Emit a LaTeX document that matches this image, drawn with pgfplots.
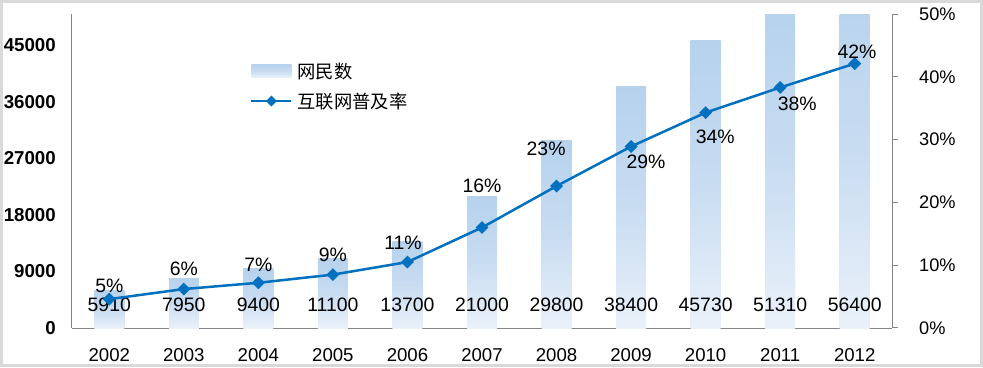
\documentclass[border=0pt]{standalone}
\usepackage{pgfplots}
\pgfplotsset{compat=1.18}
\usepackage{fontspec}
\setmainfont{Liberation Sans}
\newfontfamily\cjk{Noto Sans CJK SC}
\definecolor{barTop}{RGB}{182,210,237}
\definecolor{barMid}{RGB}{200,220,241}
\definecolor{barBot}{RGB}{234,241,250}
\definecolor{lineBlue}{RGB}{0,112,192}
\definecolor{axGray}{RGB}{134,134,134}
\definecolor{frameGray}{RGB}{217,217,217}
\pgfdeclareverticalshading{barshade}{100bp}{color(0bp)=(barBot); color(25bp)=(barBot); color(50bp)=(barMid); color(75bp)=(barTop); color(100bp)=(barTop)}
\newcommand{\lblfont}{\fontsize{19.4}{21}\selectfont}
\pgfplotsset{/pgf/number format/assume math mode=true,
  barsty/.style={ybar, bar width=30pt, bar shift=0pt, draw=none, shading=barshade}}
\begin{document}
\begin{tikzpicture}
\begin{axis}[
  at={(72pt,39pt)}, anchor=south west,
  scale only axis, width=820pt, height=314pt,
  xmin=-0.5, xmax=10.5, ymin=0, ymax=50000,
  axis x line*=bottom, axis y line*=left,
  axis line style={draw=axGray, line width=1pt, -},
  xtick={0,1,2,3,4,5,6,7,8,9,10},
  xticklabels={2002,2003,2004,2005,2006,2007,2008,2009,2010,2011,2012},
  ytick={0,9000,18000,27000,36000,45000},
  major tick length=0pt,
  scaled y ticks=false,
  yticklabel style={font=\fontsize{18.7}{20}\selectfont\bfseries, /pgf/number format/fixed, /pgf/number format/1000 sep={}, anchor=east, inner sep=0pt, xshift=-16pt},
  xticklabel style={font=\fontsize{18.6}{20}\selectfont, anchor=center, inner sep=0pt, yshift=-27pt},
]
\addplot[barsty] coordinates {(0,5910)};
\addplot[barsty] coordinates {(1,7950)};
\addplot[barsty] coordinates {(2,9400)};
\addplot[barsty] coordinates {(3,11100)};
\addplot[barsty] coordinates {(4,13700)};
\addplot[barsty] coordinates {(5,21000)};
\addplot[barsty] coordinates {(6,29800)};
\addplot[barsty] coordinates {(7,38400)};
\addplot[barsty] coordinates {(8,45730)};
\addplot[barsty] coordinates {(9,51310)};
\addplot[barsty] coordinates {(10,56400)};
\addplot[draw=none, mark=none, nodes near coords, point meta=explicit symbolic,
  every node near coord/.style={anchor=center, font=\lblfont, text=black, inner sep=0pt}]
  coordinates {(0,3750)[5910] (1,3750)[7950] (2,3750)[9400] (3,3750)[11100] (4,3750)[13700] (5,3750)[21000] (6,3750)[29800] (7,3750)[38400] (8,3750)[45730] (9,3750)[51310] (10,3750)[56400]};
\end{axis}
\begin{axis}[
  at={(72pt,39pt)}, anchor=south west,
  scale only axis, width=820pt, height=314pt,
  xmin=-0.5, xmax=10.5, ymin=0, ymax=50,
  axis x line=none, axis y line*=right,
  axis line style={draw=axGray, line width=1pt, -},
  ytick={0,10,20,30,40,50},
  tick align=outside, major tick length=6pt,
  tick style={draw=axGray, line width=1pt},
  yticklabel={\pgfmathprintnumber{\tick}\%},
  yticklabel style={font=\fontsize{18.2}{20}\selectfont, anchor=west, inner sep=0pt, xshift=21pt},
  legend style={at={(0.217,0.852)}, anchor=north west, draw=none, fill=none,
    font=\cjk\fontsize{18.3}{20}\selectfont, row sep=9pt, column sep=3pt, inner sep=0pt},
  legend cell align=left,
]
\addlegendimage{legend image code/.code={\path[draw=none, shading=barshade] (0pt,-6.5pt) rectangle (40pt,6.5pt);}}
\addlegendentry{网民数}
\addplot[lineBlue, line width=2.5pt, mark=square*, mark size=3.3pt, mark options={rotate=45, solid},
  legend image code/.code={\draw[lineBlue, line width=2.5pt] (0pt,0pt) -- (40pt,0pt);
    \draw[lineBlue, mark=square*, mark size=2.6pt, mark options={rotate=45}] plot coordinates {(20pt,0pt)};}]
  coordinates {(0,4.6) (1,6.2) (2,7.2) (3,8.5) (4,10.5) (5,16.0) (6,22.6) (7,28.9) (8,34.3) (9,38.3) (10,42.1)};
\addlegendentry{互联网普及率}
\addplot[draw=none, mark=none, nodes near coords, point meta=explicit symbolic,
  every node near coord/.style={anchor=center, font=\lblfont, text=black, inner sep=0pt}]
  coordinates {(0,6.73)[5\%] (1,9.35)[6\%] (2,10.03)[7\%] (3,11.62)[9\%] (3.94,13.64)[11\%] (5,22.65)[16\%] (5.86,28.5)[23\%] (7.2,26.4)[29\%] (8.13,30.46)[34\%] (9.23,35.77)[38\%] (10.03,43.99)[42\%]};
\end{axis}
\draw[frameGray, line width=3pt] (1.5pt,1.5pt) rectangle (981.5pt,365.5pt);
\end{tikzpicture}
\end{document}
